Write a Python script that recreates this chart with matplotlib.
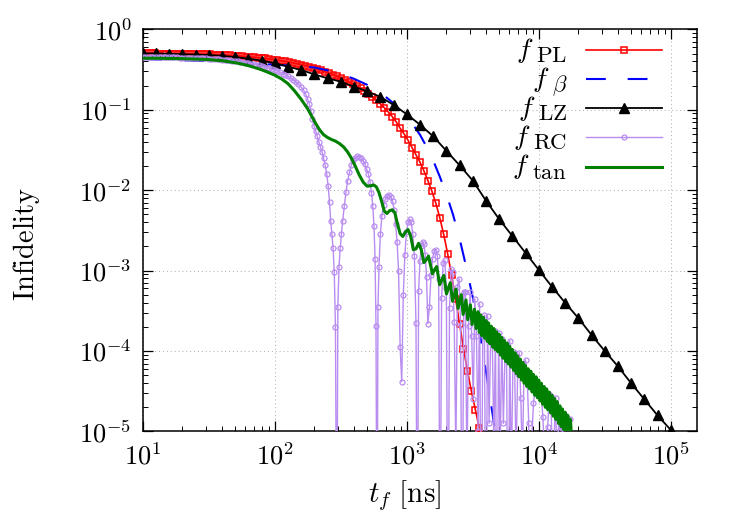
import numpy as np
import matplotlib
matplotlib.use("Agg")
import matplotlib.pyplot as plt
from matplotlib.lines import Line2D
from matplotlib.ticker import LogLocator, NullFormatter

plt.rcParams['mathtext.fontset'] = 'cm'
plt.rcParams['font.family'] = ['DejaVu Serif']

# ---------------- data (log10 t [ns], log10 infidelity) ----------------
# f_PL : red open squares
pl_logt = np.linspace(1.0, 3.61, 88)
pl_logf = [-0.300, -0.300, -0.300, -0.300, -0.301, -0.301, -0.302, -0.302, -0.303, -0.303,
           -0.304, -0.305, -0.306, -0.307, -0.308, -0.309, -0.310, -0.312, -0.314, -0.316,
           -0.318, -0.321, -0.324, -0.327, -0.331, -0.335, -0.339, -0.343, -0.348, -0.353,
           -0.358, -0.363, -0.369, -0.376, -0.383, -0.391, -0.399, -0.408, -0.418, -0.428,
           -0.439, -0.451, -0.464, -0.478, -0.493, -0.509, -0.526, -0.544, -0.563, -0.583,
           -0.604, -0.627, -0.651, -0.677, -0.705, -0.735, -0.767, -0.802, -0.840, -0.881,
           -0.926, -0.975, -1.028, -1.085, -1.150, -1.230, -1.300, -1.380, -1.470, -1.560,
           -1.650, -1.760, -1.880, -2.010, -2.160, -2.340, -2.550, -2.790, -3.060, -3.350,
           -3.660, -3.970, -4.250, -4.500, -4.730, -4.960, -5.200, -5.450]

# f_beta : blue dashed
beta_logt = [1.0, 1.2, 1.4, 1.6, 1.8, 2.0, 2.1, 2.2, 2.3, 2.4, 2.5, 2.6, 2.7, 2.8, 2.9,
             3.0, 3.05, 3.1, 3.15, 3.2, 3.25, 3.3, 3.35, 3.4, 3.45, 3.5, 3.55, 3.6, 3.65, 3.7]
beta_logf = [-0.37, -0.38, -0.39, -0.405, -0.425, -0.44, -0.45, -0.46, -0.475, -0.51,
             -0.555, -0.615, -0.69, -0.785, -0.92, -1.09, -1.19, -1.31, -1.46, -1.63,
             -1.83, -2.05, -2.30, -2.60, -2.95, -3.33, -3.75, -4.25, -4.78, -5.35]

# f_LZ : black filled triangles
lz_logt = np.linspace(1.0, 5.0, 41)
lz_logf = [-0.30, -0.30, -0.305, -0.31, -0.315, -0.32, -0.33, -0.345, -0.365, -0.39,
           -0.42, -0.465, -0.506, -0.56, -0.609, -0.651, -0.713, -0.77, -0.84, -0.94,
           -1.056, -1.185, -1.33, -1.51, -1.69, -1.88, -2.13, -2.36, -2.57, -2.78,
           -2.99, -3.20, -3.40, -3.59, -3.80, -4.00, -4.19, -4.40, -4.60, -4.80, -4.98]

# f_RC : purple open circles (three sampled stretches)
rcA_logt = np.linspace(1.0, 2.2, 61)
rcA_logf = [-0.345, -0.345, -0.345, -0.345, -0.346, -0.346, -0.346, -0.347, -0.347, -0.348,
            -0.348, -0.349, -0.349, -0.350, -0.351, -0.352, -0.353, -0.354, -0.355, -0.356,
            -0.357, -0.358, -0.360, -0.361, -0.363, -0.365, -0.367, -0.369, -0.371, -0.374,
            -0.377, -0.380, -0.383, -0.387, -0.391, -0.395, -0.399, -0.404, -0.409, -0.414,
            -0.420, -0.426, -0.433, -0.440, -0.448, -0.456, -0.465, -0.475, -0.485, -0.496,
            -0.508, -0.521, -0.535, -0.550, -0.567, -0.585, -0.605, -0.628, -0.655, -0.685,
            -0.720]
rcB_logt = [2.22, 2.235, 2.25, 2.262, 2.274, 2.286, 2.298, 2.31, 2.322, 2.334,
            2.346, 2.358, 2.37, 2.382, 2.394, 2.405, 2.415, 2.424, 2.433, 2.442,
            2.451, 2.46, 2.47, 2.478, 2.487, 2.496, 2.505, 2.515, 2.527, 2.54,
            2.553, 2.566, 2.58, 2.595, 2.61, 2.625, 2.64, 2.655, 2.67, 2.684,
            2.697, 2.71, 2.722, 2.733, 2.743, 2.752, 2.76, 2.767, 2.775, 2.782,
            2.79, 2.80, 2.812, 2.825, 2.838, 2.852, 2.866, 2.88, 2.893, 2.905,
            2.916, 2.927, 2.938, 2.95, 2.962, 2.974, 2.986, 2.998, 3.01, 3.022,
            3.034, 3.046, 3.058, 3.07, 3.08, 3.09, 3.10, 3.11, 3.12, 3.13,
            3.14, 3.15, 3.16, 3.172, 3.184, 3.196, 3.208, 3.22, 3.232, 3.242,
            3.252]
rcB_logf = [-0.76, -0.81, -0.87, -0.93, -1.02, -1.12, -1.20, -1.26, -1.33, -1.40,
            -1.46, -1.52, -1.60, -1.69, -1.80, -1.95, -2.15, -2.38, -2.55, -2.72,
            -3.02, -3.70, -7.0, -3.45, -2.95, -2.72, -2.55, -2.38, -2.20, -2.02,
            -1.88, -1.78, -1.69, -1.63, -1.595, -1.58, -1.585, -1.60, -1.64, -1.68,
            -1.74, -1.80, -1.90, -2.03, -2.20, -2.45, -2.85, -3.69, -7.0, -3.45,
            -2.95, -2.55, -2.32, -2.19, -2.11, -2.07, -2.06, -2.08, -2.14, -2.25,
            -2.42, -2.65, -3.00, -3.95, -4.38, -3.30, -2.80, -2.52, -2.40, -2.36,
            -2.40, -2.55, -2.82, -3.65, -7.0, -3.25, -2.88, -2.70, -2.64, -2.67,
            -2.80, -3.08, -3.66, -3.45, -3.05, -2.85, -2.76, -2.74, -2.82, -3.10,
            -7.0]
rcC_logt = np.linspace(3.264, 4.296, 87)
rcC_logf = [-3.34, -2.90, -2.87, -3.21, -7.0, -3.47, -2.98, -3.02, -3.64, -5.30,
            -3.20, -3.10, -3.67, -7.0, -3.27, -3.26, -5.60, -3.69, -3.27, -3.81,
            -4.60, -3.35, -3.81, -5.00, -3.41, -7.0, -3.80, -3.55, -7.0, -3.56,
            -4.90, -3.82, -3.83, -5.20, -3.75, -7.0, -3.77, -5.30, -3.85, -4.90,
            -4.06, -4.00, -7.0, -3.87, -5.60, -4.19, -4.01, -5.41, -4.28, -4.02,
            -4.58, -5.38, -4.26, -4.11, -4.31, -4.89, -7.0, -5.07, -4.65, -4.48,
            -4.43, -4.43, -4.48, -4.59, -4.82, -5.40, -7.0, -4.94, -4.53, -4.56,
            -5.47, -5.08, -4.58, -5.60, -4.79, -4.98, -4.96, -5.11, -4.80, -7.0,
            -4.85, -4.85, -5.58, -6.3, -5.34, -5.10, -5.06]

# f_tan : green solid (smooth part, visible wiggles, dense oscillation band)
tanA_logt = [1.0, 1.1, 1.2, 1.3, 1.4, 1.5, 1.6, 1.7, 1.75, 1.8, 1.85, 1.9, 1.95, 2.0,
             2.05, 2.1, 2.15, 2.2, 2.25, 2.28, 2.31, 2.34, 2.37, 2.40, 2.43, 2.46, 2.49,
             2.52, 2.55, 2.58, 2.61, 2.64, 2.67, 2.70, 2.73, 2.75, 2.77, 2.79, 2.81, 2.83,
             2.85, 2.87, 2.89, 2.91, 2.93, 2.95, 2.97, 2.99, 3.01, 3.03, 3.05, 3.07, 3.09,
             3.11, 3.13, 3.15, 3.165, 3.18, 3.195, 3.21]
tanA_logf = [-0.36, -0.36, -0.362, -0.365, -0.37, -0.377, -0.39, -0.415, -0.432, -0.452,
             -0.476, -0.503, -0.535, -0.57, -0.615, -0.675, -0.765, -0.87, -0.99, -1.08,
             -1.17, -1.25, -1.31, -1.345, -1.37, -1.39, -1.42, -1.46, -1.52, -1.60,
             -1.70, -1.81, -1.90, -1.95, -1.945, -1.935, -1.96, -2.03, -2.14, -2.26,
             -2.29, -2.255, -2.245, -2.28, -2.42, -2.54, -2.575, -2.52, -2.49, -2.57,
             -2.74, -2.73, -2.66, -2.74, -2.90, -2.86, -2.82, -2.93, -3.04, -2.99]
tanB_logt = [3.227, 3.249, 3.281, 3.301, 3.330, 3.347, 3.373, 3.389, 3.413, 3.427,
             3.449, 3.462, 3.482, 3.495, 3.513, 3.525]
tanB_logf = [-2.95, -3.175, -3.06, -3.29, -3.15, -3.38, -3.23, -3.47, -3.30, -3.545,
             -3.365, -3.61, -3.425, -3.67, -3.48, -3.72]
tanC_logt = np.linspace(3.54, 4.25, 72)
tanC_logf = [-3.51, -3.77, -3.55, -3.81, -3.58, -3.84, -3.62, -3.88, -3.65, -3.91,
             -3.69, -3.95, -3.72, -3.98, -3.76, -4.01, -3.79, -4.05, -3.83, -4.09,
             -3.87, -4.13, -3.90, -4.16, -3.94, -4.20, -3.98, -4.24, -4.02, -4.28,
             -4.06, -4.32, -4.10, -4.36, -4.14, -4.40, -4.18, -4.44, -4.22, -4.47,
             -4.25, -4.51, -4.29, -4.55, -4.32, -4.58, -4.36, -4.62, -4.40, -4.66,
             -4.44, -4.70, -4.47, -4.73, -4.51, -4.77, -4.55, -4.81, -4.59, -4.85,
             -4.63, -4.90, -4.68, -4.94, -4.72, -4.98, -4.76, -5.02, -4.80, -5.07,
             -4.85, -5.11]

leg_sub = [r'$\mathrm{PL}$', r'$\beta$', r'$\mathrm{LZ}$', r'$\mathrm{RC}$', r'$\mathrm{tan}$']
xtick_exp = [1, 2, 3, 4, 5]
ytick_exp = [-5, -4, -3, -2, -1, 0]

# ---------------- styles ----------------
W, H = 750.0, 525.0
styles = [
    dict(color='#ff0000', lw=1.2, marker='s', ms=4.8, mfc='none', mec='#ff0000', mew=1.1),
    dict(color='#0000ff', lw=1.5, linestyle=(0, (9.5, 10.5))),
    dict(color='black', lw=1.3, marker='^', ms=6.5, mfc='black', mec='black'),
    dict(color='#b98cf0', lw=1.0, marker='o', ms=3.6, mfc='none', mec='#b98cf0', mew=0.9),
    dict(color='#008000', lw=2.2),
]

fig = plt.figure(figsize=(7.5, 5.25), dpi=100)
ax = fig.add_axes([0.1903, 0.1781, 0.7387, 0.7661])

def P(logt, logf):
    return 10.0 ** np.asarray(logt, float), 10.0 ** np.asarray(logf, float)

series = [
    (pl_logt, pl_logf),
    (beta_logt, beta_logf),
    (lz_logt, lz_logf),
    (np.concatenate([rcA_logt, rcB_logt, rcC_logt]),
     np.concatenate([rcA_logf, rcB_logf, rcC_logf])),
    (np.concatenate([tanA_logt, tanB_logt, tanC_logt]),
     np.concatenate([tanA_logf, tanB_logf, tanC_logf])),
]
for i, ((lt, lf), st) in enumerate(zip(series, styles)):
    x, y = P(lt, lf)
    ax.plot(x, y, zorder=3 + i, **st)

ax.set_xscale('log')
ax.set_yscale('log')
ax.set_xlim(10, 10 ** 5.197)
ax.set_ylim(1e-5, 1)

ax.set_xticks([10.0 ** e for e in xtick_exp])
ax.set_xticklabels([r'$10^{%d}$' % e for e in xtick_exp])
ax.set_yticks([10.0 ** e for e in ytick_exp])
ax.set_yticklabels([r'$10^{%d}$' % e for e in ytick_exp])
ax.xaxis.set_minor_locator(LogLocator(base=10, subs=np.arange(2, 10), numticks=20))
ax.yaxis.set_minor_locator(LogLocator(base=10, subs=np.arange(2, 10), numticks=20))
ax.xaxis.set_minor_formatter(NullFormatter())
ax.yaxis.set_minor_formatter(NullFormatter())
ax.tick_params(which='both', direction='in', top=True, right=True, labelsize=19)
ax.tick_params(which='major', length=7, width=0.9, pad=8)
ax.tick_params(which='minor', length=3.5, width=0.7)
for s in ax.spines.values():
    s.set_linewidth(1.1)
ax.grid(True, which='major', linestyle=(0, (1, 3)), color='#aaaaaa', linewidth=0.7)

fig.text(27 / W, 1 - 244 / H, r'$\mathrm{Infidelity}$', rotation=90,
         ha='center', va='center', fontsize=20.5)
fig.text(405 / W, 1 - 496 / H, r'$t_f\ \mathrm{[ns]}$', ha='center',
         va='center', fontsize=21)

# ---------------- legend (label right-aligned, sample on the right) ----------------
row_y = [50.0, 79.3, 108.3, 137.3, 166.7]
x_h0, x_h1, x_txt = 586.0, 662.0, 567.0
fig.canvas.draw()
rend = fig.canvas.get_renderer()
for st, sub, yr in zip(styles, leg_sub, row_y):
    line_kw = {k: v for k, v in st.items() if k in ('color', 'lw', 'linestyle')}
    fig.add_artist(Line2D([x_h0 / W, x_h1 / W], [1 - yr / H, 1 - yr / H],
                          transform=fig.transFigure, **line_kw))
    if 'marker' in st:
        mk = {k: v for k, v in st.items() if k in ('marker', 'ms', 'mfc', 'mec', 'mew')}
        fig.add_artist(Line2D([(x_h0 + x_h1) / 2 / W], [1 - yr / H], linestyle='none',
                              transform=fig.transFigure, **mk))
    ts = fig.text(x_txt / W, 1 - (yr + 12.0) / H, sub, fontsize=16.5,
                  ha='right', va='baseline')
    bb = ts.get_window_extent(rend)
    fig.text((bb.x0 - 2.5) / W, 1 - (yr + 7.5) / H, r'$f$', fontsize=20,
             ha='right', va='baseline')

fig.savefig('out.png', dpi=100)
